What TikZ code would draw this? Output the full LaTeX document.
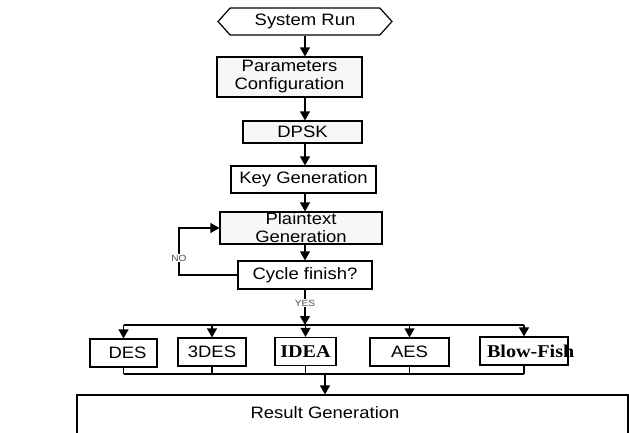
\documentclass[tikz,border=0pt]{standalone}
\usepackage{fontspec}
\setmainfont{Liberation Sans}[FakeStretch=1.12]
\newfontfamily\algfont{Liberation Serif}[FakeStretch=1.12]
\usetikzlibrary{arrows.meta,shapes.symbols}
\begin{document}
\begin{tikzpicture}[x=1pt,y=-1pt,line width=1.2pt,
  arr/.style={-{Triangle[width=10pt,length=9pt]}},
  box/.style={draw,fill=black!3,inner sep=0pt,font=\fontsize{16.5}{18}\selectfont,align=center},
  alg/.style={box,fill=white,minimum height=28pt},
  tag/.style={fill=white,inner sep=1pt,font=\fontsize{9}{10}\selectfont,text=black!70}]
\useasboundingbox (0,0) rectangle (629,432);
\node[draw,fill=white,shape=signal,signal to=west and east,signal pointer angle=96,
  minimum width=174pt,minimum height=27pt,inner sep=0pt,font=\fontsize{16.5}{18}\selectfont]
  (run) at (305,21.5) {System Run};
\node[box,minimum width=145pt,minimum height=40pt] (param) at (289.5,77) {Parameters\\Configuration};
\node[box,minimum width=119pt,minimum height=22pt] (dpsk) at (302.5,132) {DPSK};
\node[box,fill=white,minimum width=145pt,minimum height=27pt] (key) at (303.5,179.5) {Key Generation};
\node[box,minimum width=162pt,minimum height=32pt] (plain) at (301,228) {Plaintext\\Generation};
\node[box,fill=white,minimum width=134pt,minimum height=28pt] (cyc) at (305,275) {Cycle finish?};
% the five ciphers
\node[alg,minimum width=67pt] (des) at (123.5,353) {\hspace*{8pt}DES};
\node[alg,minimum width=68pt] (tdes) at (212,352) {3DES};
\node[alg,minimum width=61pt,font=\algfont\bfseries\fontsize{18}{20}\selectfont] (idea) at (305.5,351.5) {IDEA};
\node[alg,minimum width=88pt] (fish) at (524,351) {\algfont\bfseries\fontsize{18}{20}\selectfont\makebox[60pt][l]{\hspace*{-7pt}Blow-Fish}};
\node[alg,minimum width=79pt] (aes) at (409.5,352) {AES};
\node[draw,fill=white,minimum width=551pt,minimum height=50pt,inner sep=0pt] (res) at (352.5,420) {};
\node[font=\fontsize{16.5}{18}\selectfont,inner sep=0pt] (restext) at (325,413) {Result Generation};
\coordinate (top) at (305,325);
\coordinate (bot) at (325,374);
\coordinate (loop) at (179,228);
% main chain
\draw[arr] (run.south) -- (run.south |- param.north);
\draw[arr] (run.south |- param.south) -- (run.south |- dpsk.north);
\draw[arr] (run.south |- dpsk.south) -- (run.south |- key.north);
\draw[arr] (run.south |- key.south) -- (run.south |- plain.north);
\draw[arr] (run.south |- plain.south) -- (cyc.north);
\draw[arr] (cyc.west) -| (loop) -- (plain.west);
\node[tag] (no) at (179,258) {NO};
\draw[arr] (cyc.south) -- (top);
\node[tag] (yes) at (305,303) {YES};
% fan out
\draw (des.north |- top) -- (fish.north |- top);
\foreach \b in {des,tdes,idea,aes,fish}
  \draw[arr] (\b.north |- top) -- (\b.north);
% collect
\foreach \b in {des,tdes,idea,aes,fish}
  \draw (\b.south) -- (\b.south |- bot);
\draw (des.south |- bot) -- (fish.south |- bot);
\draw[arr] (bot) -- (bot |- res.north);
\end{tikzpicture}
\end{document}
